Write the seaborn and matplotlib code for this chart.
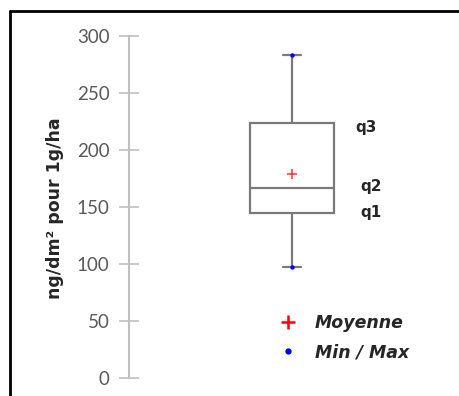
import numpy as np
import pandas as pd
import seaborn as sns
import matplotlib.pyplot as plt
from matplotlib.lines import Line2D

# summary values (ng/dm2 pour 1g/ha)
box_values = [97, 145, 167, 224, 283]   # min, q1, median, q3, max
mean_value = 179
min_max = [97, 283]
quart_labels = ["q3", "q2", "q1"]
quart_label_y = [220, 168, 145]
y_ticks = [0, 50, 100, 150, 200, 250, 300]

sns.set_style("white")
plt.rcParams['font.family'] = ['Lato', 'DejaVu Sans']

fig = plt.figure(figsize=(4.6, 3.96), dpi=100)
W, H = 460, 396
ax = fig.add_axes([129 / W, 1 - 378 / H, 326 / W, (378 - 36) / H])

df = pd.DataFrame({"g": ["a"] * len(box_values), "v": box_values})
sns.boxplot(data=df, x="g", y="v", ax=ax, whis=np.inf, width=0.51,
            color="white", linecolor="#7a7a7a", linewidth=1.6,
            capprops={"color": "#7a7a7a"})

# caps shorter than the box, like the reference
for ln in ax.lines:
    xd = ln.get_xdata()
    yd = ln.get_ydata()
    if len(xd) == 2 and yd[0] == yd[1] and yd[0] in (min_max[0], min_max[1]):
        ln.set_xdata([-0.055, 0.055])

ax.scatter([0, 0], min_max, color="blue", s=10, zorder=5, linewidths=0)
ax.scatter([0], [mean_value], color="#ff3030", marker="+", s=45, linewidths=1.1, zorder=5)

for lab, yv in zip(quart_labels, quart_label_y):
    ax.text(0.39 if lab == "q3" else 0.42, yv, lab, fontsize=11, fontweight="bold",
            family="DejaVu Sans", va="center", ha="left")

ax.set_xlim(-1, 1)
ax.set_ylim(0, 300)
ax.set_yticks(y_ticks)
ax.set_xticks([])
ax.set_xlabel("")
ax.set_ylabel("")
for s in ["top", "right", "bottom"]:
    ax.spines[s].set_visible(False)
ax.spines["left"].set_color("#c0c0c0")
ax.spines["left"].set_linewidth(1.5)
ax.tick_params(axis="y", direction="inout", length=14, width=1.2, color="#c0c0c0",
               labelsize=13.5, labelcolor="#595959", pad=7, left=True)

fig.text(55 / W, 1 - 208 / H, "ng/dm² pour 1g/ha", rotation=90, fontsize=12.5,
         fontweight="bold", family="DejaVu Sans", ha="center", va="center")

handles = [
    Line2D([], [], color="red", marker="+", linestyle="none", markersize=10, markeredgewidth=1.8),
    Line2D([], [], color="blue", marker="o", linestyle="none", markersize=3.5),
]
fig.legend(handles, ["Moyenne", "Min / Max"], loc="upper left",
           bbox_to_anchor=(279 / W, 1 - 314 / H), bbox_transform=fig.transFigure,
           frameon=False, borderpad=0, borderaxespad=0, handlelength=1.0,
           handletextpad=1.05, labelspacing=0.65,
           prop={"family": "DejaVu Sans", "weight": "bold", "style": "italic", "size": 12.5})

# page frame (top and left edges)
fig.add_artist(Line2D([10 / W, 1], [1 - 11 / H, 1 - 11 / H], color="black", lw=2, transform=fig.transFigure))
fig.add_artist(Line2D([10 / W, 10 / W], [0, 1 - 11 / H], color="black", lw=2, transform=fig.transFigure))

fig.savefig("out.png", dpi=100)
